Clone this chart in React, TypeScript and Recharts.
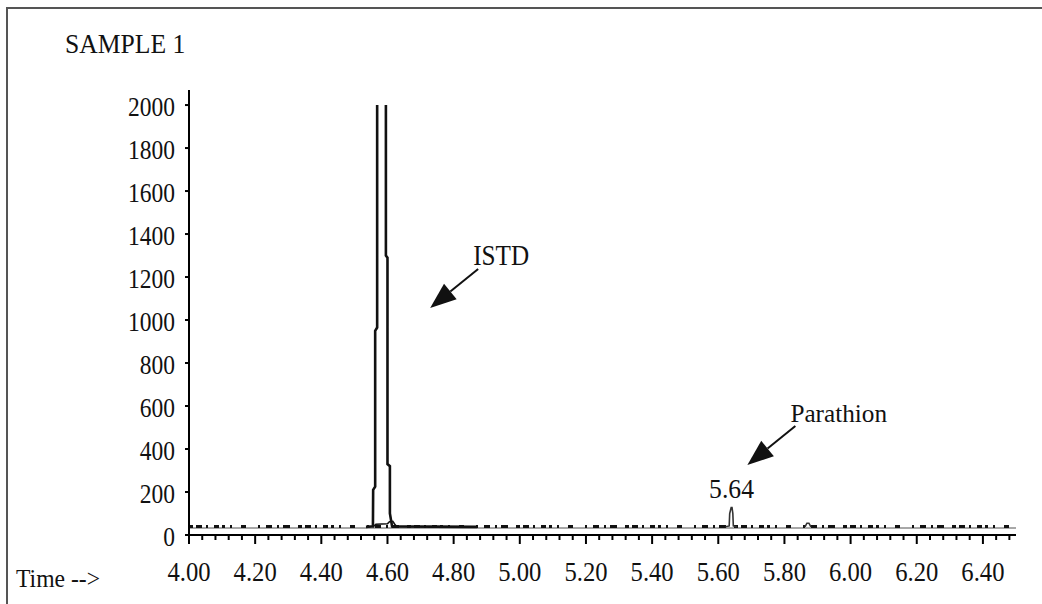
import React from 'react';
import { LineChart, Line, XAxis, YAxis, ReferenceDot } from 'recharts';

// chromatogram traces (time in min, abundance)
const baselineTime = [4.0, 6.5];
const baselineValue = [33, 33];

const noiseTime = [4.0, 6.5];
const noiseValue = [39, 39];

const istdTime = [4.535, 4.556, 4.5567, 4.5628, 4.5628, 4.5688, 4.5688, 4.582, 4.5952, 4.5952, 4.6, 4.6, 4.6073, 4.6073, 4.614, 4.871];
const istdValue = [38, 40, 210, 225, 950, 965, 2000, null, 2000, 1300, 1290, 330, 320, 100, 40, 38];

const humpTime = [4.555, 4.565, 4.6, 4.606, 4.616, 4.622, 4.628];
const humpValue = [36, 50, 52, 62, 64, 50, 38];

const parathionTime = [5.622, 5.633, 5.6345, 5.639, 5.6415, 5.644, 5.6455, 5.656];
const parathionValue = [38, 42, 100, 128, 128, 100, 42, 38];

const bumpTime = [5.862, 5.868, 5.874, 5.88];
const bumpValue = [38, 55, 55, 38];

const xMajorLabels = ['4.00', '4.20', '4.40', '4.60', '4.80', '5.00', '5.20', '5.40', '5.60', '5.80', '6.00', '6.20', '6.40'];
const yTicks = [0, 200, 400, 600, 800, 1000, 1200, 1400, 1600, 1800, 2000];

const peakLabel = { text: '5.64', t: 5.64, v: 128 };
const arrows = [
  { text: 'ISTD', t: 4.729, v: 1056 },
  { text: 'Parathion', t: 5.688, v: 326 },
];

const toRows = (ts: number[], vs: (number | null)[]) => ts.map((t, i) => ({ t, v: vs[i] }));

const xMajor = xMajorLabels.map(Number);
const xTicks: number[] = [];
xMajor.forEach(m => {
  for (let k = 0; k < 5; k++) {
    const t = Math.round((m + k * 0.04) * 100) / 100;
    if (t < 6.5) xTicks.push(t);
  }
});

const FONT = '"Liberation Serif", "Times New Roman", serif';
const INK = '#111';

const XTick = ({ x, y, payload }: any) => {
  const v = payload.value;
  const major = Math.abs(v * 5 - Math.round(v * 5)) < 1e-6;
  return (
    <g>
      <line x1={x} x2={x} y1={y} y2={y + (major ? 9 : 5)} stroke="#000" strokeWidth={2} />
      {major && (
        <text
          transform={`translate(${x},${y + 46}) scale(0.88,1)`}
          textAnchor="middle"
          fontFamily={FONT}
          fontSize={28}
          fill={INK}
        >
          {v.toFixed(2)}
        </text>
      )}
    </g>
  );
};

const YTick = ({ x, y, payload }: any) => (
  <text
    transform={`translate(${x},${y + 11}) scale(0.84,1)`}
    textAnchor="end"
    fontFamily={FONT}
    fontSize={28}
    fill={INK}
  >
    {payload.value}
  </text>
);

const ArrowShape = ({ cx, cy, text }: any) => {
  const dx = 48;
  const dy = -39;
  const len = Math.sqrt(dx * dx + dy * dy);
  const ux = dx / len;
  const uy = dy / len;
  const hl = 26;
  const hw = 10;
  const bx = cx + ux * hl;
  const by = cy + uy * hl;
  const px = -uy * hw;
  const py = ux * hw;
  const big = text === 'ISTD';
  return (
    <g>
      <line x1={bx} y1={by} x2={cx + dx} y2={cy + dy} stroke={INK} strokeWidth={2} />
      <polygon points={`${cx},${cy} ${bx + px},${by + py} ${bx - px},${by - py}`} fill={INK} />
      <text
        transform={`translate(${cx + dx - 5},${cy + dy - 4}) scale(${big ? 0.84 : 0.97},1)`}
        fontFamily={FONT}
        fontSize={big ? 30 : 26}
        fill={INK}
      >
        {text}
      </text>
    </g>
  );
};

const PeakLabelShape = ({ cx, cy }: any) => (
  <text
    transform={`translate(${cx},${cy - 9}) scale(0.95,1)`}
    textAnchor="middle"
    fontFamily={FONT}
    fontSize={27}
    fill={INK}
  >
    {peakLabel.text}
  </text>
);

export default function App() {
  return (
    <div style={{ position: 'absolute', left: 0, top: 0, width: 1042, height: 604, background: '#fff', overflow: 'hidden' }}>
      <div
        style={{
          position: 'absolute',
          left: 6,
          top: 7,
          width: 1036,
          height: 597,
          borderTop: '2px solid #555',
          borderLeft: '2px solid #555',
          boxSizing: 'border-box',
        }}
      />
      <svg width={1042} height={604} style={{ position: 'absolute', left: 0, top: 0 }}>
        <text transform="translate(65,53) scale(0.95,1)" fontFamily={FONT} fontSize={27} fill={INK}>SAMPLE 1</text>
        <text transform="translate(16,587) scale(0.91,1)" fontFamily={FONT} fontSize={26} fill={INK}>Time --&gt;</text>
      </svg>
      <div style={{ position: 'absolute', left: 0, top: 0 }}>
        <LineChart width={1042} height={604} margin={{ top: 90, right: 26, bottom: 0, left: 0 }}>
          <XAxis
            type="number"
            dataKey="t"
            domain={[4, 6.5]}
            ticks={xTicks}
            interval={0}
            tick={<XTick />}
            tickLine={false}
            tickSize={0}
            tickMargin={0}
            height={69}
            axisLine={{ stroke: '#000', strokeWidth: 2 }}
          />
          <YAxis
            type="number"
            domain={[0, 2070]}
            ticks={yTicks}
            interval={0}
            tick={<YTick />}
            tickSize={4}
            tickMargin={10}
            tickLine={{ stroke: '#000', strokeWidth: 2 }}
            width={189}
            axisLine={{ stroke: '#000', strokeWidth: 2 }}
          />
          <Line data={toRows(baselineTime, baselineValue)} dataKey="v" type="linear" stroke="#a8a8a8" strokeWidth={2} dot={false} isAnimationActive={false} />
          <Line
            data={toRows(noiseTime, noiseValue)}
            dataKey="v"
            type="linear"
            stroke={INK}
            strokeWidth={3}
            strokeDasharray="4 3 6 4 2 6 5 3 3 5 2 9 5 12 2 6 6 5 2 4 7 8"
            dot={false}
            isAnimationActive={false}
          />
          <Line data={toRows(humpTime, humpValue)} dataKey="v" type="linear" stroke={INK} strokeWidth={1.6} dot={false} isAnimationActive={false} />
          <Line data={toRows(istdTime, istdValue)} dataKey="v" type="linear" stroke={INK} strokeWidth={2.6} dot={false} connectNulls={false} isAnimationActive={false} />
          <Line data={toRows(parathionTime, parathionValue)} dataKey="v" type="linear" stroke="#333" strokeWidth={1.6} dot={false} isAnimationActive={false} />
          <Line data={toRows(bumpTime, bumpValue)} dataKey="v" type="linear" stroke="#333" strokeWidth={1.6} dot={false} isAnimationActive={false} />
          {arrows.map(a => (
            <ReferenceDot key={a.text} x={a.t} y={a.v} r={0} ifOverflow="visible" shape={(p: any) => <ArrowShape {...p} text={a.text} />} />
          ))}
          <ReferenceDot x={peakLabel.t} y={peakLabel.v} r={0} ifOverflow="visible" shape={(p: any) => <PeakLabelShape {...p} />} />
        </LineChart>
      </div>
    </div>
  );
}
